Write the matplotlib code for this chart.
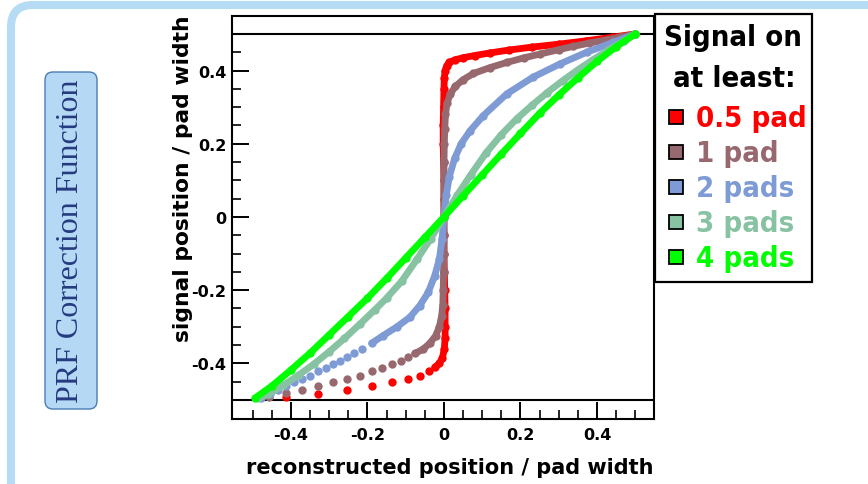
import matplotlib
matplotlib.use("Agg")
import matplotlib.pyplot as plt
from matplotlib.patches import FancyBboxPatch, Rectangle

# ---------------- data ----------------
series_labels = ["0.5 pad", "1 pad", "2 pads", "3 pads", "4 pads"]
series_colors = ["#ff0000", "#98686f", "#7e9bd5", "#87c3a3", "#00ff00"]
# number of leading points drawn as separate dots (sparse tail)
series_tail = [8, 12, 14, 0, 0]

red_x = [-0.414, -0.330, -0.254, -0.188, -0.135, -0.093, -0.063, -0.039,
         -0.024, -0.012, -0.004, 0.001, 0.003, 0.003, 0.003, 0.002, 0.001, 0.000,
         0.000, 0.000, 0.000, 0.000, -0.001, -0.002, -0.002, -0.001, 0.000, 0.001,
         0.003, 0.007, 0.014, 0.028, 0.050, 0.080, 0.120, 0.170, 0.230, 0.300,
         0.370, 0.440, 0.500]
red_y = [-0.492, -0.483, -0.472, -0.462, -0.452, -0.443, -0.434, -0.422,
         -0.411, -0.400, -0.385, -0.360, -0.330, -0.300, -0.250, -0.200, -0.150, -0.100,
         -0.050, 0.000, 0.050, 0.100, 0.150, 0.200, 0.250, 0.300, 0.350, 0.380,
         0.400, 0.413, 0.422, 0.429, 0.435, 0.441, 0.448, 0.456, 0.464, 0.472,
         0.481, 0.491, 0.500]

brown_x = [-0.457, -0.413, -0.372, -0.330, -0.291, -0.254, -0.220, -0.189, -0.162, -0.135,
           -0.112, -0.093,
           -0.076, -0.054, -0.037, -0.022, -0.012, -0.006, -0.003, -0.002, -0.001, 0.000,
           0.000, 0.000, 0.000, 0.000, 0.000, 0.001, 0.002, 0.004, 0.008, 0.016,
           0.030, 0.050, 0.077, 0.120, 0.164, 0.210, 0.251, 0.300, 0.338, 0.380,
           0.425, 0.460, 0.500]
brown_y = [-0.492, -0.480, -0.472, -0.461, -0.452, -0.443, -0.434, -0.422, -0.412, -0.402,
           -0.393, -0.383,
           -0.373, -0.361, -0.345, -0.325, -0.300, -0.270, -0.240, -0.200, -0.150, -0.100,
           -0.050, 0.000, 0.050, 0.100, 0.150, 0.200, 0.240, 0.280, 0.310, 0.335,
           0.357, 0.375, 0.392, 0.408, 0.422, 0.435, 0.445, 0.457, 0.466, 0.475,
           0.484, 0.491, 0.500]

blue_x = [-0.477, -0.455, -0.433, -0.413, -0.392, -0.372, -0.350, -0.330, -0.309, -0.291,
          -0.272, -0.254, -0.235, -0.215,
          -0.189, -0.159, -0.124, -0.089, -0.063, -0.041, -0.024, -0.012, -0.005, 0.000,
          0.006, 0.014, 0.028, 0.045, 0.068, 0.103, 0.164, 0.233, 0.303, 0.373,
          0.443, 0.500]
blue_y = [-0.495, -0.484, -0.472, -0.461, -0.452, -0.443, -0.434, -0.422, -0.413, -0.402,
          -0.393, -0.383, -0.372, -0.361,
          -0.345, -0.324, -0.301, -0.274, -0.242, -0.206, -0.160, -0.115, -0.060, 0.000,
          0.060, 0.110, 0.160, 0.200, 0.235, 0.277, 0.336, 0.382, 0.418, 0.450,
          0.477, 0.500]

teal_x = [-0.485, -0.460, -0.420, -0.380, -0.340, -0.300, -0.260, -0.220, -0.180, -0.150,
          -0.110, -0.070, -0.035, 0.000, 0.035, 0.070, 0.110, 0.150, 0.190, 0.230,
          0.270, 0.310, 0.350, 0.390, 0.430, 0.470, 0.500]
teal_y = [-0.495, -0.485, -0.460, -0.432, -0.402, -0.368, -0.332, -0.293, -0.253, -0.222,
          -0.175, -0.115, -0.060, 0.000, 0.060, 0.115, 0.175, 0.225, 0.268, 0.305,
          0.340, 0.372, 0.402, 0.430, 0.456, 0.480, 0.500]

green_x = [-0.494, -0.450, -0.400, -0.350, -0.300, -0.250, -0.200, -0.150, -0.100, -0.050,
           0.000, 0.050, 0.100, 0.150, 0.200, 0.250, 0.300, 0.350, 0.400, 0.450, 0.500]
green_y = [-0.495, -0.462, -0.418, -0.372, -0.322, -0.272, -0.222, -0.168, -0.112, -0.056,
           0.000, 0.058, 0.115, 0.172, 0.228, 0.283, 0.333, 0.380, 0.425, 0.465, 0.500]

series_x = [red_x, brown_x, blue_x, teal_x, green_x]
series_y = [red_y, brown_y, blue_y, teal_y, green_y]

x_ticks = [-0.4, -0.2, 0.0, 0.2, 0.4]
x_ticklabels = ["-0.4", "-0.2", "0", "0.2", "0.4"]
y_ticks = [-0.4, -0.2, 0.0, 0.2, 0.4]
y_ticklabels = ["-0.4", "-0.2", "0", "0.2", "0.4"]
ref_levels = [-0.5, 0.5]

# ---------------- figure ----------------
W, H = 868, 485
fig = plt.figure(figsize=(W / 100, H / 100), dpi=100)

# background layer in pixel coordinates
bg = fig.add_axes([0, 0, 1, 1], zorder=0)
bg.set_xlim(0, W)
bg.set_ylim(H, 0)
bg.axis("off")

bg.add_patch(FancyBboxPatch((11, 6), 940, 540,
                            boxstyle="round,pad=0,rounding_size=22",
                            facecolor="white", edgecolor="#b6dbf4", linewidth=5.8))
bg.add_patch(FancyBboxPatch((45, 73), 52, 337,
                            boxstyle="round,pad=0,rounding_size=8",
                            facecolor="#b5d9f5", edgecolor="#4a7db3", linewidth=1.0))
bg.text(71, 241, "PRF Correction Function", rotation=90, ha="center", va="center",
        family="Liberation Serif", fontsize=23, color="#263a80")

# legend
legend_font = dict(family="DejaVu Sans", fontsize=21, fontweight="bold",
                   fontstretch="condensed")
bg.add_patch(Rectangle((655, 15), 157, 268, facecolor="white", edgecolor="black",
                       linewidth=1.6))
bg.text(733, 46, "Signal on", ha="center", va="baseline", color="black", **legend_font)
bg.text(734, 87, "at least:", ha="center", va="baseline", color="black", **legend_font)
for i, (lab, col) in enumerate(zip(series_labels, series_colors)):
    cy = 117.5 + 35 * i
    bg.add_patch(Rectangle((669, cy - 7), 14, 14, facecolor=col, edgecolor="black",
                           linewidth=1.3))
    bg.text(696, 127 + 35 * i, lab, ha="left", va="baseline", color=col, **legend_font)

# main axes
ax = fig.add_axes([232 / W, 1 - 420 / H, 422 / W, 403 / H], zorder=2)
ax.set_xlim(-0.554, 0.549)
ax.set_ylim(-0.552, 0.549)
for sp in ax.spines.values():
    sp.set_linewidth(1.5)
for lev in ref_levels:
    ax.axhline(lev, color="black", linewidth=1.5, zorder=1)

for xs, ys, col, ntail in zip(series_x, series_y, series_colors, series_tail):
    ax.plot(xs[ntail:], ys[ntail:], color=col, linewidth=4.9, solid_capstyle="round",
            solid_joinstyle="round", zorder=3)
    ax.plot(xs, ys, linestyle="none", marker="o", markersize=6.0, color=col,
            markeredgewidth=0, zorder=3)

ax.set_xticks(x_ticks)
ax.set_xticklabels(x_ticklabels)
ax.set_yticks(y_ticks)
ax.set_yticklabels(y_ticklabels)
ax.set_xticks([v / 20 for v in range(-10, 11)], minor=True)
ax.set_yticks([v / 20 for v in range(-10, 11)], minor=True)
ax.tick_params(which="major", direction="in", length=12, width=1.4,
               top=False, right=False, labelsize=11.5, pad=6)
ax.tick_params(which="minor", direction="in", length=6.5, width=1.2,
               top=False, right=False)
ax.tick_params(axis="y", which="major", pad=4)
for lab in ax.get_xticklabels() + ax.get_yticklabels():
    lab.set_fontweight("bold")
    lab.set_family("DejaVu Sans")

fig.text(183 / W, 1 - 15 / H, "signal position / pad width", rotation=90,
         ha="center", va="top", family="DejaVu Sans", fontweight="bold", fontsize=15.7)
fig.text(654 / W, 1 - 474 / H, "reconstructed position / pad width",
         ha="right", va="baseline", family="DejaVu Sans", fontweight="bold", fontsize=15)

fig.savefig("out.png", dpi=100)
